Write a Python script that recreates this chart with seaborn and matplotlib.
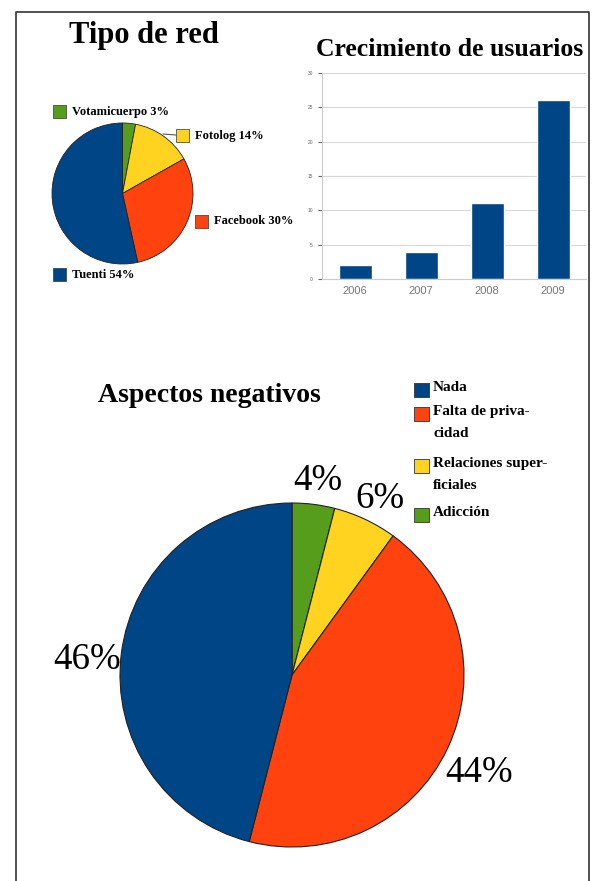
import matplotlib
matplotlib.use("Agg")
import matplotlib.pyplot as plt
import seaborn as sns
from matplotlib.patches import Rectangle

# data
red_labels = ["Votamicuerpo", "Fotolog", "Facebook", "Tuenti"]
red_pct = [3, 14, 30, 54]

years = ["2006", "2007", "2008", "2009"]
usuarios = [2, 4, 11, 26]

neg_labels = ["Adicción", "Relaciones superficiales", "Falta de privacidad", "Nada"]
neg_legend = ["Nada", "Falta de priva-\ncidad", "Relaciones super-\nficiales", "Adicción"]
neg_pct = [4, 6, 44, 46]

BLUE = "#004586"
RED = "#ff420e"
YELLOW = "#ffd320"
GREEN = "#579d1c"
red_colors = [GREEN, YELLOW, RED, BLUE]
neg_colors = [GREEN, YELLOW, RED, BLUE]

W, H = 596, 881
sns.set_style("white")
plt.rcParams["font.family"] = ["Liberation Serif", "DejaVu Serif"]
plt.rcParams["text.color"] = "black"

fig = plt.figure(figsize=(W / 100, H / 100), dpi=100)


def box(x0, y0, x1, y1):
    return [x0 / W, 1 - y1 / H, (x1 - x0) / W, (y1 - y0) / H]


# overlay in pixel coords for frame, titles and legends
ov = fig.add_axes([0, 0, 1, 1])
ov.set_xlim(0, W)
ov.set_ylim(H, 0)
ov.axis("off")
ov.plot([16, 16, 589, 589], [H, 12, 12, H], color="#333333", lw=1.2)

# Tipo de red
ov.text(144, 35, "Tipo de red", fontsize=22, fontweight="bold", ha="center", va="center")
ax1 = fig.add_axes(box(52, 123, 193, 264))
ax1.pie(red_pct, colors=red_colors, startangle=90, counterclock=False,
        wedgeprops=dict(edgecolor="#222222", linewidth=0.6))
ax1.set_xlim(-1, 1)
ax1.set_ylim(-1, 1)
ax1.set_aspect("equal")

leg1_pos = [(53, 105), (176, 129), (195, 215), (53, 268)]
for (x, y), name, p, c in zip(leg1_pos, red_labels, red_pct, red_colors):
    ov.add_patch(Rectangle((x, y), 13, 13, facecolor=c, edgecolor="#333333", lw=0.5))
    ov.text(x + 19, y + 6.5, f"{name} {p}%", fontsize=9, fontweight="bold",
            va="center", ha="left")
ov.plot([163, 176], [134, 135], color="#555555", lw=0.8)

# Crecimiento de usuarios
ov.text(450, 50, "Crecimiento de usuarios", fontsize=18.5, fontweight="bold",
        ha="center", va="center")
ax2 = fig.add_axes(box(322, 73, 586, 279))
sns.barplot(x=years, y=usuarios, color=BLUE, width=0.5, saturation=1, ax=ax2)
ax2.set_ylim(0, 30)
ax2.set_yticks(range(0, 31, 5))
ax2.grid(axis="y", color="#d8d8d8", lw=0.8)
ax2.set_axisbelow(True)
ax2.set_xlabel("")
ax2.set_ylabel("")
for s in ["top", "right"]:
    ax2.spines[s].set_visible(False)
for s in ["left", "bottom"]:
    ax2.spines[s].set_color("#cccccc")
ax2.tick_params(axis="y", labelsize=3.5, colors="#666666", length=3, left=True)
ax2.tick_params(axis="x", labelsize=8, colors="#777777", length=0, pad=5)
for t in ax2.get_xticklabels() + ax2.get_yticklabels():
    t.set_family(["Liberation Sans", "DejaVu Sans"])

# Aspectos negativos
ov.text(209, 396, "Aspectos negativos", fontsize=20, fontweight="bold",
        ha="center", va="center")
ax3 = fig.add_axes(box(120, 502, 464, 848))
wedges, texts = ax3.pie(neg_pct, colors=neg_colors, startangle=90, counterclock=False,
                        labels=[f"{p}%" for p in neg_pct], labeldistance=1.2,
                        textprops=dict(fontsize=26.5, va="center", ha="center"),
                        wedgeprops=dict(edgecolor="#222222", linewidth=0.8))
for t in texts:
    x, y = t.get_position()
    t.set_position((x, y - 0.06))
ax3.set_xlim(-1, 1)
ax3.set_ylim(-1, 1)
ax3.set_aspect("equal")

leg3_y = [383, 407, 459, 508]
leg3_colors = [BLUE, RED, YELLOW, GREEN]
for y, txt, c in zip(leg3_y, neg_legend, leg3_colors):
    ov.add_patch(Rectangle((414, y), 15, 14, facecolor=c, edgecolor="#333333", lw=0.6))
    ov.text(433, y - 2, txt, fontsize=11, fontweight="bold", va="top", ha="left",
            linespacing=1.9)

fig.savefig("out.png", dpi=100)
